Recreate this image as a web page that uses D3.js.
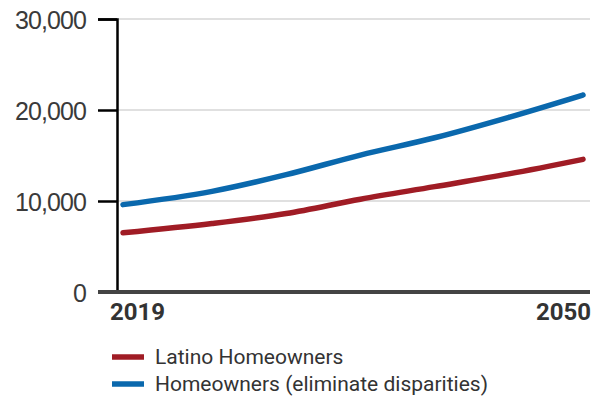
<!DOCTYPE html>
<html>
<head>
<meta charset="utf-8">
<script src="https://cdn.jsdelivr.net/npm/d3@7"></script>
<style>
  html, body { margin: 0; padding: 0; background: #fff; }
  svg { display: block; font-family: "Roboto", "Noto Sans", sans-serif; }
</style>
</head>
<body>
<svg id="chart" width="594" height="398"></svg>
<script>
// Projected homeowners, 2019–2050
const years = [2019, 2025, 2030, 2035, 2040, 2045, 2050];
const latinoHomeowners = [6500, 7520, 8620, 10200, 11580, 12980, 14580];
const eliminateDisparities = [9600, 11060, 12890, 15050, 16950, 19200, 21650];
const yTicks = [0, 10000, 20000, 30000];
const xTickLabels = [2019, 2050];
const seriesNames = ["Latino Homeowners", "Homeowners (eliminate disparities)"];
const seriesColors = ["#a01c25", "#0a68ad"];

const svg = d3.select("#chart");

const x = d3.scaleLinear().domain([2019, 2050]).range([123, 583]);
const y = d3.scaleLinear().domain([0, 30000]).range([292, 19]);

// gridlines
svg.append("g")
  .selectAll("line")
  .data(yTicks.filter(d => d > 0))
  .join("line")
  .attr("x1", 117).attr("x2", 590)
  .attr("y1", d => y(d)).attr("y2", d => y(d))
  .attr("stroke", "#e0e0e0").attr("stroke-width", 2);

// y axis
const yAxis = svg.append("g")
  .attr("transform", "translate(117,0)")
  .call(d3.axisLeft(y).tickValues(yTicks).tickSize(19).tickPadding(12)
    .tickFormat(d3.format(",")));
yAxis.select(".domain").attr("stroke", "#000").attr("stroke-width", 2.5);
yAxis.selectAll(".tick line").attr("stroke", "#000").attr("stroke-width", 2.5);
yAxis.selectAll(".tick text")
  .attr("fill", "#3a3a3a")
  .style("font-size", "25px")
  .style("letter-spacing", "-0.9px")
  .attr("dy", "0.36em");

// x axis baseline
svg.append("line")
  .attr("x1", 98).attr("x2", 590)
  .attr("y1", y(0)).attr("y2", y(0))
  .attr("stroke", "#444").attr("stroke-width", 4);

// x labels
svg.append("g")
  .selectAll("text")
  .data(xTickLabels)
  .join("text")
  .attr("x", (d, i) => i === 0 ? x(d) - 13 : x(d) + 8)
  .attr("y", 320)
  .attr("text-anchor", (d, i) => i === 0 ? "start" : "end")
  .attr("fill", "#333")
  .style("font-size", "24px")
  .style("font-weight", "bold")
  .text(d => d);

// series lines
const line = d3.line()
  .x((d, i) => x(years[i]))
  .y(d => y(d))
  .curve(d3.curveMonotoneX);

[latinoHomeowners, eliminateDisparities].forEach((vals, i) => {
  svg.append("path")
    .datum(vals)
    .attr("d", line)
    .attr("fill", "none")
    .attr("stroke", seriesColors[i])
    .attr("stroke-width", 5.5)
    .attr("stroke-linecap", "round");
});

// legend
const legend = svg.append("g")
  .selectAll("g")
  .data(seriesNames)
  .join("g")
  .attr("transform", (d, i) => `translate(112,${357 + i * 27})`);
legend.append("line")
  .attr("x1", 0).attr("x2", 32)
  .attr("stroke", (d, i) => seriesColors[i])
  .attr("stroke-width", 5.5);
legend.append("text")
  .attr("x", 43).attr("y", 7)
  .attr("fill", "#333")
  .style("font-size", "21px")
  .text(d => d);
</script>
</body>
</html>
